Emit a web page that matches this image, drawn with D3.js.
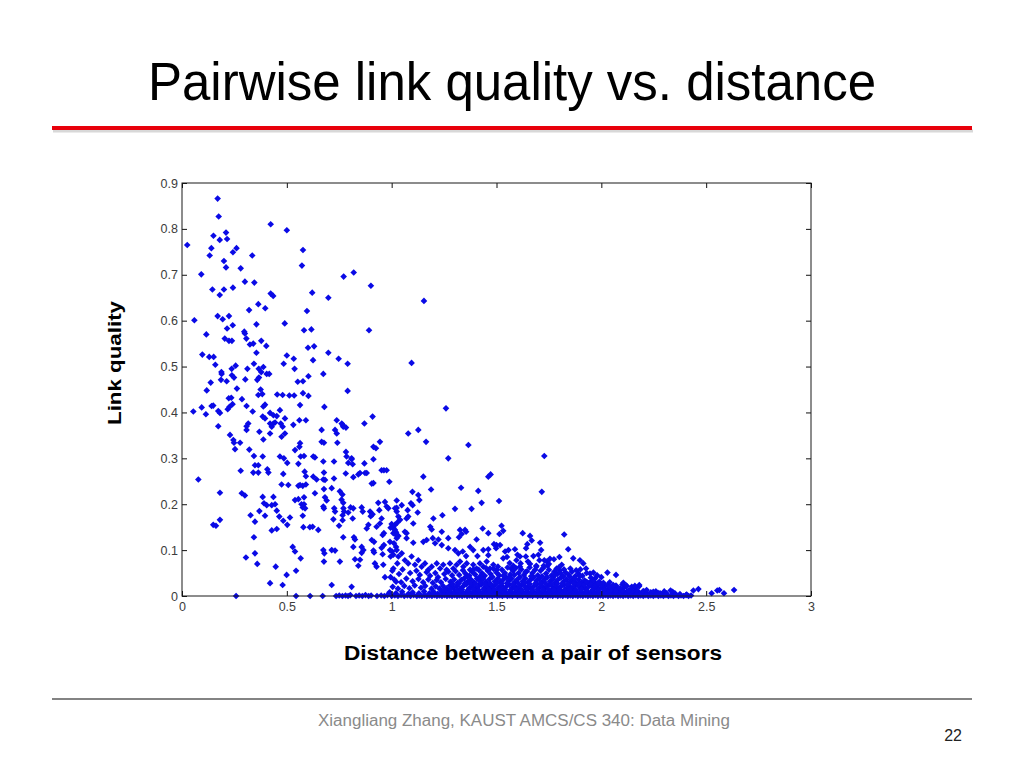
<!DOCTYPE html>
<html>
<head>
<meta charset="utf-8">
<script src="https://cdn.jsdelivr.net/npm/d3@7"></script>
<style>
  html, body { margin: 0; padding: 0; background: #fff; }
  svg { display: block; }
</style>
</head>
<body>
<div id="slide"></div>
<script>
// Data: [distance, link quality]
const upperPts = [
  [0.025,0.765],[0.17,0.866],[0.175,0.827],[0.15,0.785],[0.21,0.792],[0.18,0.776],[0.215,0.778],[0.14,0.758],
  [0.26,0.758],[0.243,0.749],[0.132,0.742],[0.335,0.742],[0.2,0.73],[0.21,0.716],[0.28,0.714],[0.092,0.701],
  [0.145,0.668],[0.2,0.668],[0.243,0.672],[0.18,0.656],[0.3,0.685],[0.345,0.683],[0.423,0.81],[0.5,0.797],
  [0.577,0.754],[0.572,0.72],[0.621,0.661],[0.698,0.65],[0.771,0.696],[0.819,0.705],[0.901,0.676],[1.154,0.643],
  [0.892,0.579],[1.095,0.508],[0.423,0.659],[0.435,0.654],[0.364,0.636],[0.397,0.627],[0.32,0.623],[0.596,0.621],
  [0.17,0.61],[0.224,0.61],[0.194,0.603],[0.059,0.601],[0.49,0.594],[0.355,0.592],[0.242,0.59],[0.215,0.583],
  [0.297,0.576],[0.3,0.572],[0.582,0.579],[0.617,0.581],[0.116,0.57],[0.204,0.561],[0.307,0.561],[0.224,0.556],
  [0.238,0.556],[0.378,0.556],[0.324,0.548],[0.34,0.55],[0.402,0.545],[0.601,0.541],[0.63,0.544],[0.698,0.53],
  [0.355,0.53],[0.097,0.526],[0.13,0.521],[0.151,0.521],[0.5,0.524],[0.533,0.517],[0.747,0.517],[0.625,0.514],
  [0.159,0.504],[0.256,0.502],[0.343,0.506],[0.485,0.506],[0.79,0.506],[0.388,0.499],[0.237,0.495],[0.312,0.495],
  [0.537,0.495],[0.366,0.495],[0.188,0.488],[0.189,0.484],[0.378,0.488],[0.404,0.484],[0.416,0.484],[0.674,0.484],
  [0.238,0.481],[0.248,0.476],[0.603,0.479],[0.367,0.476],[0.302,0.472],[0.359,0.471],[0.186,0.471],[0.213,0.468],
  [0.552,0.467],[0.577,0.468],[0.137,0.465],[0.262,0.452],[0.118,0.448],[0.375,0.45],[0.79,0.447],[0.364,0.438],
  [0.383,0.44],[0.454,0.439],[0.48,0.438],[0.512,0.437],[0.535,0.437],[0.577,0.442],[0.603,0.436],[0.223,0.431],
  [0.235,0.432],[0.286,0.429]
];

const middlePts = [
  [0.054,0.402],[0.094,0.411],[0.114,0.396],[0.141,0.414],[0.149,0.415],[0.173,0.403],[0.181,0.399],[0.173,0.37],
  [0.218,0.407],[0.226,0.412],[0.241,0.418],[0.308,0.414],[0.337,0.402],[0.388,0.413],[0.396,0.417],[0.385,0.391],
  [0.396,0.387],[0.42,0.399],[0.436,0.394],[0.452,0.392],[0.467,0.405],[0.563,0.416],[0.679,0.412],[0.316,0.376],
  [0.308,0.37],[0.42,0.376],[0.428,0.369],[0.471,0.376],[0.491,0.387],[0.56,0.383],[0.591,0.383],[0.738,0.383],
  [0.766,0.373],[0.782,0.367],[0.87,0.376],[0.909,0.391],[0.229,0.351],[0.245,0.34],[0.248,0.334],[0.253,0.32],
  [0.277,0.334],[0.321,0.319],[0.343,0.305],[0.385,0.304],[0.369,0.358],[0.388,0.341],[0.308,0.362],[0.467,0.304],
  [0.486,0.3],[0.539,0.318],[0.56,0.325],[0.566,0.304],[0.582,0.305],[0.626,0.304],[0.666,0.336],[0.677,0.334],
  [0.741,0.334],[0.782,0.314],[0.809,0.3],[0.913,0.325],[0.925,0.322],[0.944,0.336],[0.563,0.333],[0.42,0.354],
  [0.475,0.347],[0.491,0.354],[0.48,0.369],[0.436,0.376],[0.444,0.378],[0.531,0.373],[0.666,0.362],[0.73,0.362],
  [0.738,0.354],[0.762,0.376],[0.769,0.369],[1.079,0.354],[1.127,0.362],[1.259,0.409],[1.164,0.336],[1.366,0.329],
  [1.27,0.3],[1.461,0.26],[1.472,0.265],[1.728,0.305],[1.716,0.227]
];

const lowerPts = [
  [0.078,0.254],[0.181,0.225],[0.149,0.155],[0.162,0.153],[0.181,0.166],[0.258,0],[0.28,0.273],[0.285,0.224],
  [0.3,0.219],[0.348,0.285],[0.364,0.285],[0.34,0.269],[0.364,0.269],[0.327,0.176],[0.348,0.162],[0.343,0.128],
  [0.305,0.084],[0.359,0.07],[0.348,0.093],[0.385,0.216],[0.391,0.202],[0.404,0.198],[0.369,0.185],[0.412,0.269],
  [0.407,0.276],[0.436,0.216],[0.428,0.198],[0.444,0.2],[0.452,0.186],[0.396,0.175],[0.428,0.143],[0.452,0.146],
  [0.42,0.028],[0.447,0.064],[0.502,0.29],[0.483,0.266],[0.475,0.243],[0.507,0.242],[0.483,0.164],[0.464,0.173],
  [0.515,0.171],[0.502,0.155],[0.499,0.046],[0.48,0.024],[0.528,0.107],[0.539,0.097],[0.566,0.082],[0.544,0.055],
  [0.539,0.209],[0.544,0],[0.555,0.288],[0.585,0.271],[0.591,0.261],[0.555,0.24],[0.563,0.242],[0.576,0.24],
  [0.591,0.243],[0.555,0.211],[0.582,0.215],[0.57,0.2],[0.582,0.2],[0.576,0.193],[0.587,0.191],[0.576,0.175],
  [0.579,0.15],[0.61,0.15],[0.623,0.151],[0.634,0.224],[0.626,0.26],[0.642,0.254],[0.634,0.302],[0.674,0.293],
  [0.677,0.269],[0.674,0.254],[0.682,0.253],[0.65,0.144],[0.611,0],[0.674,0.1],[0.679,0.093],[0.677,0.075],
  [0.671,0],[0.677,0.233],[0.682,0.215],[0.69,0.208],[0.674,0.195],[0.677,0.191],[0.714,0.235],[0.714,0.1],
  [0.73,0.099],[0.714,0.024],[0.725,0.293],[0.725,0.256],[0.726,0.191],[0.73,0.184],[0.722,0.167],[0.749,0.153],
  [0.753,0.228],[0.765,0.221],[0.761,0.21],[0.769,0.203],[0.753,0.075],[0.77,0.191],[0.773,0.184],[0.766,0.176],
  [0.769,0.128],[0.766,0.165],[0.785,0.304],[0.793,0.29],[0.809,0.298],[0.814,0.287],[0.817,0.259],[0.809,0.02],
  [0.781,0.267],[0.793,0.182],[0.804,0.193],[0.817,0.191],[0.814,0.169],[0.82,0.128],[0.825,0.123],[0.817,0.107],
  [0.825,0.08],[0.841,0.265],[0.849,0.268],[0.857,0.193],[0.862,0.184],[0.873,0.268],[0.881,0.268],[0.857,0.107],
  [0.865,0.1],[0.857,0.094],[0.849,0.079],[0.841,0.066],[0.87,0.289],[0.881,0.147],[0.889,0.155],[0.897,0.184],
  [0.9,0.174],[0.909,0.178],[0.905,0.122],[0.916,0.118],[0.913,0.099],[0.916,0.095],[0.92,0.071],[0.928,0.064],
  [0.913,0.298],[0.905,0.245],[0.913,0.246],[0.936,0.203],[0.941,0.187],[0.928,0.151],[0.944,0.158],[0.952,0.274],
  [0.963,0.274],[0.976,0.274],[0.968,0.205],[0.976,0.195],[0.984,0.191],[0.989,0.249],[0.952,0.169],[0.957,0.133],
  [0.963,0.137],[0.952,0.105],[0.963,0.111],[0.957,0.091],[0.96,0.068],[0.968,0.041],[0.995,0.041],[0.995,0.149],
  [1.0,0.157],[1.008,0.148],[1.016,0.155],[1.024,0.192],[1.021,0.139],[1.008,0.137],[1.032,0.131],[1.021,0.107],
  [0.992,0.1],[1.024,0.1],[1.002,0.097],[0.995,0.086],[1.008,0.06],[1.027,0.071],[1.021,0.031]
];

const bandPts = [
  [1.151,0.26],[1.188,0.232],[1.331,0.236],[1.413,0.229],[1.024,0.208],[1.099,0.227],[1.127,0.22],[1.132,0.209],
  [1.092,0.202],[1.1,0.198],[1.048,0.198],[1.016,0.191],[1.024,0.184],[1.076,0.187],[1.124,0.182],[1.429,0.203],
  [1.302,0.19],[1.381,0.19],[1.032,0.173],[1.04,0.166],[1.027,0.16],[1.071,0.169],[1.079,0.173],[1.103,0.158],
  [1.242,0.176],[1.199,0.169],[1.016,0.144],[1.021,0.133],[1.063,0.14],[1.071,0.137],[1.184,0.151],[1.191,0.145],
  [1.239,0.14],[1.27,0.126],[1.326,0.144],[1.334,0.135],[1.35,0.144],[1.355,0.14],[1.321,0.128],[1.434,0.147],
  [1.405,0.123],[1.461,0.137],[0.992,0.118],[1.011,0.115],[1.024,0.126],[1.071,0.126],[1.103,0.116],[1.151,0.118],
  [1.167,0.122],[1.196,0.126],[1.207,0.115],[1.223,0.123],[1.239,0.111],[1.27,0.104],[1.302,0.1],[1.318,0.093],
  [1.339,0.097],[1.355,0.087],[1.374,0.107],[1.389,0.1],[1.409,0.087],[1.437,0.1],[1.461,0.102],[1.488,0.113],
  [1.5,0.111],[1.008,0.09],[1.032,0.086],[1.048,0.093],[1.063,0.078],[1.079,0.071],[1.095,0.086],[1.111,0.068],
  [1.127,0.078],[1.143,0.064],[1.159,0.071],[1.175,0.057],[1.191,0.064],[1.215,0.071],[1.231,0.06],[1.246,0.068],
  [1.262,0.057],[1.278,0.071],[1.294,0.06],[1.31,0.068],[1.326,0.075],[1.342,0.064],[1.358,0.071],[1.374,0.057],
  [1.389,0.068],[1.405,0.06],[1.421,0.071],[1.437,0.064],[1.453,0.075],[1.469,0.06],[1.485,0.068],[1.501,0.057],
  [1.512,0.207],[1.524,0.153],[1.532,0.142],[1.514,0.135],[1.625,0.137],[1.66,0.131],[1.668,0.121],[1.647,0.113],
  [1.708,0.116],[1.713,0.1],[1.823,0.134],[1.842,0.102],[1.866,0.082],[1.898,0.078],[1.914,0.071],[1.927,0.06],
  [1.946,0.049],[1.962,0.051],[2.029,0.051],[2.07,0.046],[1.588,0.102],[1.641,0.104],[1.541,0.097],[1.557,0.1],
  [1.532,0.082],[1.612,0.086],[1.615,0.071],[1.64,0.086],[1.676,0.087],[1.705,0.078],[1.728,0.078],[1.74,0.075],
  [1.755,0.081],[1.774,0.08],[1.787,0.06],[1.811,0.068],[1.517,0.111],[1.498,0.104],[1.461,0.089],[1.563,0.072],
  [1.58,0.066],[1.595,0.078],[1.66,0.07],[1.69,0.066],[1.55,0.085],[1.6,0.09],[1.65,0.075],[1.7,0.09],
  [1.75,0.07],[1.8,0.085],[1.57,0.06],[1.725,0.066]
];

const densePts = [
  [1.003,0.055],[1.035,0.048],[1.052,0.058],[1.088,0.05],[1.118,0.055],[1.134,0.046],[1.167,0.052],[1.183,0.044],
  [1.208,0.05],[1.221,0.041],[1.251,0.048],[1.27,0.053],[1.288,0.045],[1.305,0.054],[1.322,0.046],[1.34,0.056],
  [1.352,0.049],[1.37,0.044],[1.383,0.053],[1.398,0.047],[1.415,0.057],[1.43,0.05],[1.444,0.044],[1.458,0.055],
  [1.472,0.048],[1.486,0.059],[1.5,0.051],[1.513,0.045],[1.526,0.057],[1.54,0.05],[1.553,0.062],[1.566,0.047],
  [1.579,0.055],[1.592,0.061],[1.605,0.05],[1.618,0.058],[1.631,0.046],[1.645,0.054],[1.658,0.062],[1.671,0.05],
  [1.684,0.057],[1.697,0.045],[1.71,0.055],[1.723,0.061],[1.736,0.049],[1.75,0.057],[1.763,0.045],[1.776,0.053],
  [1.79,0.048],[1.803,0.056],[1.816,0.044],[1.83,0.051],[1.845,0.046],[1.86,0.053],[1.875,0.043],[1.89,0.049],
  [1.91,0.044],[1.93,0.05],[1.98,0.045],[2.0,0.041],
  [1.012,0.036],[1.045,0.03],[1.07,0.038],[1.1,0.032],[1.128,0.037],[1.15,0.03],[1.175,0.036],[1.196,0.029],
  [1.215,0.035],[1.235,0.03],[1.258,0.037],[1.28,0.031],[1.298,0.036],[1.315,0.029],[1.332,0.035],[1.347,0.039],
  [1.362,0.031],[1.378,0.036],[1.392,0.03],[1.407,0.038],[1.422,0.032],[1.437,0.037],[1.45,0.03],[1.465,0.036],
  [1.478,0.041],[1.492,0.032],[1.506,0.038],[1.519,0.031],[1.533,0.036],[1.546,0.041],[1.559,0.033],[1.572,0.038],
  [1.586,0.03],[1.599,0.036],[1.612,0.041],[1.625,0.032],[1.638,0.038],[1.651,0.03],[1.664,0.036],[1.677,0.041],
  [1.69,0.033],[1.703,0.038],[1.716,0.03],[1.729,0.036],[1.742,0.041],[1.755,0.032],[1.768,0.037],[1.781,0.03],
  [1.794,0.036],[1.807,0.04],[1.82,0.031],[1.834,0.036],[1.848,0.03],[1.862,0.035],[1.877,0.03],[1.892,0.036],
  [1.907,0.03],[1.92,0.034],[1.94,0.028],[1.955,0.033],[1.972,0.027],[1.99,0.031],[2.01,0.026],[2.04,0.03],
  [1.005,0.02],[1.03,0.016],[1.06,0.022],[1.085,0.017],[1.11,0.023],[1.14,0.018],[1.16,0.022],[1.19,0.016],
  [1.21,0.021],[1.228,0.016],[1.245,0.022],[1.262,0.017],[1.278,0.023],[1.293,0.018],[1.31,0.022],[1.326,0.016],
  [1.341,0.021],[1.356,0.025],[1.37,0.017],[1.385,0.022],[1.4,0.016],[1.414,0.021],[1.428,0.025],[1.441,0.017],
  [1.455,0.022],[1.469,0.016],[1.482,0.021],[1.496,0.025],[1.509,0.018],[1.522,0.023],[1.535,0.016],[1.548,0.021],
  [1.561,0.025],[1.574,0.018],[1.587,0.022],[1.6,0.016],[1.613,0.021],[1.626,0.025],[1.639,0.018],[1.652,0.022],
  [1.665,0.016],[1.678,0.021],[1.691,0.025],[1.704,0.018],[1.717,0.022],[1.73,0.016],[1.743,0.021],[1.756,0.025],
  [1.769,0.017],[1.782,0.022],[1.795,0.016],[1.808,0.021],[1.821,0.024],[1.834,0.017],[1.847,0.022],[1.86,0.016],
  [1.873,0.021],[1.886,0.024],[1.899,0.017],[1.912,0.021],[1.925,0.016],[1.938,0.02],[1.951,0.023],[1.964,0.016],
  [1.977,0.02],[1.99,0.015],[2.004,0.019],[2.018,0.022],[2.032,0.015],[2.046,0.019],[2.06,0.014],[2.075,0.018],
  [2.09,0.013],[2.105,0.017],[2.12,0.022],[2.14,0.014],[2.16,0.018],[2.18,0.021],
  [0.99,0.008],[1.02,0.006],[1.05,0.009],[1.08,0.005],[1.1,0.008],[1.13,0.006],[1.155,0.01],[1.18,0.006],
  [1.2,0.009],[1.22,0.005],[1.24,0.009],[1.255,0.006],[1.27,0.01],[1.285,0.006],[1.3,0.009],[1.315,0.005],
  [1.33,0.009],[1.345,0.006],[1.36,0.01],[1.375,0.006],[1.39,0.009],[1.405,0.005],[1.42,0.009],[1.435,0.006],
  [1.45,0.01],[1.464,0.006],[1.478,0.009],[1.492,0.005],[1.506,0.009],[1.52,0.006],[1.534,0.01],[1.548,0.006],
  [1.562,0.009],[1.576,0.005],[1.59,0.009],[1.604,0.006],[1.618,0.01],[1.632,0.006],[1.646,0.009],[1.66,0.005],
  [1.674,0.009],[1.688,0.006],[1.702,0.01],[1.716,0.006],[1.73,0.009],[1.744,0.005],[1.758,0.009],[1.772,0.006],
  [1.786,0.01],[1.8,0.006],[1.814,0.009],[1.828,0.005],[1.842,0.009],[1.856,0.006],[1.87,0.01],[1.884,0.006],
  [1.898,0.009],[1.912,0.005],[1.926,0.009],[1.94,0.006],[1.954,0.01],[1.968,0.006],[1.982,0.009],[1.996,0.005],
  [2.01,0.009],[2.024,0.006],[2.038,0.01],[2.052,0.006],[2.066,0.009],[2.08,0.005],[2.094,0.009],[2.108,0.006],
  [2.122,0.01],[2.136,0.006],[2.15,0.009],[2.164,0.005],[2.178,0.008],[2.192,0.006],[2.206,0.009],[2.22,0.005],
  [2.236,0.008],[2.25,0.005],[2.27,0.007],[2.29,0.004],[2.31,0.006]
];

// extra marks filling the solid part of the band
const fillPts = [
  [1.362,0.042],[1.39,0.058],[1.423,0.043],[1.45,0.061],[1.48,0.042],[1.507,0.064],[1.533,0.044],[1.56,0.04],
  [1.585,0.046],[1.612,0.064],[1.638,0.052],[1.665,0.043],[1.69,0.064],[1.717,0.043],[1.743,0.066],[1.77,0.04],
  [1.797,0.062],[1.822,0.058],[1.852,0.06],[1.88,0.056],[1.9,0.058],[1.95,0.04],[1.97,0.038],
  [1.29,0.026],[1.32,0.027],[1.35,0.028],[1.375,0.027],[1.4,0.027],[1.425,0.028],[1.445,0.026],[1.47,0.027],
  [1.5,0.028],[1.525,0.027],[1.55,0.028],[1.58,0.026],[1.605,0.027],[1.632,0.028],[1.658,0.026],[1.685,0.027],
  [1.71,0.028],[1.735,0.027],[1.762,0.026],[1.79,0.027],[1.815,0.028],[1.84,0.026],[1.868,0.027],[1.895,0.026],
  [1.92,0.025],[1.948,0.026],[1.975,0.025],[2.0,0.024],[2.03,0.024],[2.07,0.023],[2.1,0.025],
  [1.25,0.013],[1.28,0.014],[1.31,0.013],[1.335,0.014],[1.365,0.013],[1.39,0.014],[1.415,0.013],[1.44,0.014],
  [1.465,0.013],[1.49,0.014],[1.515,0.013],[1.54,0.014],[1.567,0.013],[1.593,0.014],[1.62,0.013],[1.645,0.014],
  [1.67,0.013],[1.695,0.014],[1.722,0.013],[1.748,0.014],[1.775,0.013],[1.8,0.014],[1.825,0.013],[1.85,0.014],
  [1.878,0.013],[1.905,0.014],[1.93,0.012],[1.958,0.013],[1.985,0.012],[2.015,0.013],[2.045,0.012],[2.07,0.011],
  [2.1,0.012],[2.13,0.012],[2.17,0.012],[2.2,0.011],[2.26,0.01],[2.3,0.01],[2.33,0.012]
];

const tailPts = [
  [2.216,0.013],[2.248,0.009],[2.28,0.006],[2.312,0.004],[2.34,0.009],[2.351,0.006],[2.375,0.004],[2.407,0.003],
  [2.439,0.012],[2.463,0.015],[2.526,0.006],[2.553,0.012],[2.563,0.013],[2.585,0.006],[2.633,0.013],[2.105,0.029],
  [2.121,0.022],[2.145,0.02],[2.16,0.022],[2.181,0.024],[2.038,0.02],[2.057,0.024],[2.089,0.017],[1.93,0.031],
  [1.962,0.035],[1.986,0.028],[2.01,0.029],[1.779,0.046],[1.803,0.051],[1.819,0.042],[1.849,0.042],[1.872,0.038],
  [1.897,0.044]
];

// pairs lying on the zero line
const floorPts = [
  [0.735,0],[0.75,0.001],[0.765,0],[0.78,0.001],[0.792,0],[0.803,0.002],[0.83,0],[0.845,0.001],[0.86,0],
  [0.875,0.002],[0.89,0],[0.902,0.001],[0.93,0],[0.95,0.001],[0.965,0],[0.98,0.002],[1.0,0],[1.015,0.001],
  [1.03,0],[1.045,0.002],[1.06,0],[1.075,0.001],[1.09,0],[1.105,0.002],[1.12,0],[1.132,0.001],[1.144,0],
  [1.156,0.002],[1.168,0],[1.18,0.001],[1.192,0],[1.204,0.002],[1.216,0],[1.228,0.001],[1.24,0],[1.252,0.002],
  [1.264,0],[1.276,0.001],[1.288,0],[1.3,0.002],[1.312,0],[1.324,0.001],[1.336,0],[1.348,0.002],[1.36,0],
  [1.372,0.001],[1.384,0],[1.396,0.002],[1.408,0],[1.42,0.001],[1.432,0],[1.444,0.002],[1.456,0],[1.468,0.001],
  [1.48,0],[1.492,0.002],[1.504,0],[1.516,0.001],[1.528,0],[1.54,0.002],[1.552,0],[1.564,0.001],[1.576,0],
  [1.588,0.002],[1.6,0],[1.612,0.001],[1.624,0],[1.636,0.002],[1.648,0],[1.66,0.001],[1.672,0],[1.684,0.002],
  [1.696,0],[1.708,0.001],[1.72,0],[1.732,0.002],[1.744,0],[1.756,0.001],[1.768,0],[1.78,0.002],[1.792,0],
  [1.804,0.001],[1.816,0],[1.828,0.002],[1.84,0],[1.852,0.001],[1.864,0],[1.876,0.002],[1.888,0],[1.9,0.001],
  [1.912,0],[1.924,0.002],[1.936,0],[1.948,0.001],[1.96,0],[1.972,0.002],[1.984,0],[1.996,0.001],[2.008,0],
  [2.02,0.002],[2.032,0],[2.044,0.001],[2.056,0],[2.068,0.002],[2.08,0],[2.092,0.001],[2.104,0],[2.116,0.002],
  [2.128,0],[2.14,0.001],[2.152,0],[2.164,0.002],[2.176,0],[2.188,0.001],[2.2,0],[2.212,0.002],[2.224,0],
  [2.236,0.001],[2.248,0],[2.26,0.002],[2.272,0],[2.284,0.001],[2.296,0],[2.308,0.002],[2.32,0],[2.332,0.001],
  [2.344,0],[2.356,0.002],[2.368,0],[2.38,0.001],[2.392,0],[2.404,0.002],[2.416,0],[2.428,0.001]
];

const xTicks = [0, 0.5, 1, 1.5, 2, 2.5, 3];
const yTicks = [0, 0.1, 0.2, 0.3, 0.4, 0.5, 0.6, 0.7, 0.8, 0.9];

const titleText = 'Pairwise link quality vs. distance';
const xLabelText = 'Distance between a pair of sensors';
const yLabelText = 'Link quality';
const footerText = 'Xiangliang Zhang, KAUST AMCS/CS 340: Data Mining';
const pageNumber = '22';

class LinkScatter {

    constructor(container, width, height, box) {
        this.width = width;
        this.height = height;
        this.box = box; // [left, top, right, bottom]

        this.svg = d3.select(container).append('svg')
            .attr('width', width)
            .attr('height', height);

        this.svg.append('rect')
            .attr('width', width).attr('height', height)
            .attr('fill', '#fff');

        this.scaleX = d3.scaleLinear([0, 3], [box[0], box[2]]);
        this.scaleY = d3.scaleLinear([0, 0.9], [box[3], box[1]]);
    }

    #drawSlide() {
        const svg = this.svg;
        const narrow = '"Liberation Sans Narrow", "Arial Narrow", "Liberation Sans", Arial, sans-serif';

        svg.append('text')
            .attr('x', 512).attr('y', 100)
            .attr('text-anchor', 'middle')
            .attr('font-family', narrow)
            .attr('font-size', 53)
            .attr('textLength', 728)
            .attr('lengthAdjust', 'spacingAndGlyphs')
            .attr('fill', '#000')
            .text(titleText);

        // red rule with a faint shadow
        svg.append('line')
            .attr('x1', 53).attr('x2', 973).attr('y1', 131).attr('y2', 131)
            .attr('stroke', '#d8d8d8').attr('stroke-width', 3);
        svg.append('line')
            .attr('x1', 52).attr('x2', 972).attr('y1', 128).attr('y2', 128)
            .attr('stroke', '#e8000b').attr('stroke-width', 4);

        svg.append('line')
            .attr('x1', 52).attr('x2', 972).attr('y1', 699).attr('y2', 699)
            .attr('stroke', '#5a5a5a').attr('stroke-width', 1.5);

        svg.append('text')
            .attr('x', 524).attr('y', 726)
            .attr('text-anchor', 'middle')
            .attr('font-family', narrow)
            .attr('font-size', 16)
            .attr('textLength', 412)
            .attr('lengthAdjust', 'spacingAndGlyphs')
            .attr('fill', '#8a8a8a')
            .text(footerText);

        svg.append('text')
            .attr('x', 962).attr('y', 741)
            .attr('text-anchor', 'end')
            .attr('font-family', narrow)
            .attr('font-size', 16)
            .attr('fill', '#222')
            .text(pageNumber);
    }

    #drawAxes() {
        const [l, t, r, b] = this.box;
        const g = this.svg.append('g')
            .attr('font-family', '"Liberation Sans", Arial, sans-serif');

        const fmt = d => String(d);

        const bottom = g.append('g').attr('transform', `translate(0,${b})`)
            .call(d3.axisBottom(this.scaleX).tickValues(xTicks).tickFormat(fmt)
                .tickSizeInner(-5).tickSizeOuter(0).tickPadding(6));
        const left = g.append('g').attr('transform', `translate(${l},0)`)
            .call(d3.axisLeft(this.scaleY).tickValues(yTicks).tickFormat(fmt)
                .tickSizeInner(-5).tickSizeOuter(0).tickPadding(4));
        const top = g.append('g').attr('transform', `translate(0,${t})`)
            .call(d3.axisTop(this.scaleX).tickValues(xTicks).tickFormat('')
                .tickSizeInner(-5).tickSizeOuter(0));
        const right = g.append('g').attr('transform', `translate(${r},0)`)
            .call(d3.axisRight(this.scaleY).tickValues(yTicks).tickFormat('')
                .tickSizeInner(-5).tickSizeOuter(0));

        [bottom, left, top, right].forEach(a => {
            a.select('.domain').remove();
            a.selectAll('line').attr('stroke', '#111');
            a.selectAll('text').attr('font-size', 12.5).attr('fill', '#3c3c3c');
        });

        g.append('rect')
            .attr('x', l).attr('y', t)
            .attr('width', r - l).attr('height', b - t)
            .attr('fill', 'none')
            .attr('stroke', '#1a1a1a').attr('stroke-width', 1);

        this.svg.append('text')
            .attr('x', 533).attr('y', 660)
            .attr('text-anchor', 'middle')
            .attr('font-family', '"Liberation Sans", Arial, sans-serif')
            .attr('font-weight', 'bold')
            .attr('font-size', 20)
            .attr('textLength', 378)
            .attr('lengthAdjust', 'spacingAndGlyphs')
            .text(xLabelText);

        this.svg.append('text')
            .attr('transform', 'translate(121,363) rotate(-90)')
            .attr('text-anchor', 'middle')
            .attr('font-family', '"Liberation Sans", Arial, sans-serif')
            .attr('font-weight', 'bold')
            .attr('font-size', 19)
            .attr('textLength', 124)
            .attr('lengthAdjust', 'spacingAndGlyphs')
            .text(yLabelText);
    }

    #drawDots() {
        const marker = d3.symbol(d3.symbolSquare, 22);
        this.svg.append('g')
            .selectAll('path.dot')
            .data(this.data)
            .join('path')
            .classed('dot', true)
            .attr('d', marker)
            .attr('transform', d => `translate(${this.scaleX(d[0])},${this.scaleY(d[1])}) rotate(45)`)
            .attr('fill', '#0a0ae6');
    }

    render(dataset) {
        this.data = dataset;
        this.#drawSlide();
        this.#drawDots();
        this.#drawAxes();
        return this;
    }
}

const allPts = [].concat(upperPts, middlePts, lowerPts, bandPts, densePts, fillPts, tailPts, floorPts);
new LinkScatter('#slide', 1024, 768, [182, 183, 811, 596]).render(allPts);
</script>
</body>
</html>
